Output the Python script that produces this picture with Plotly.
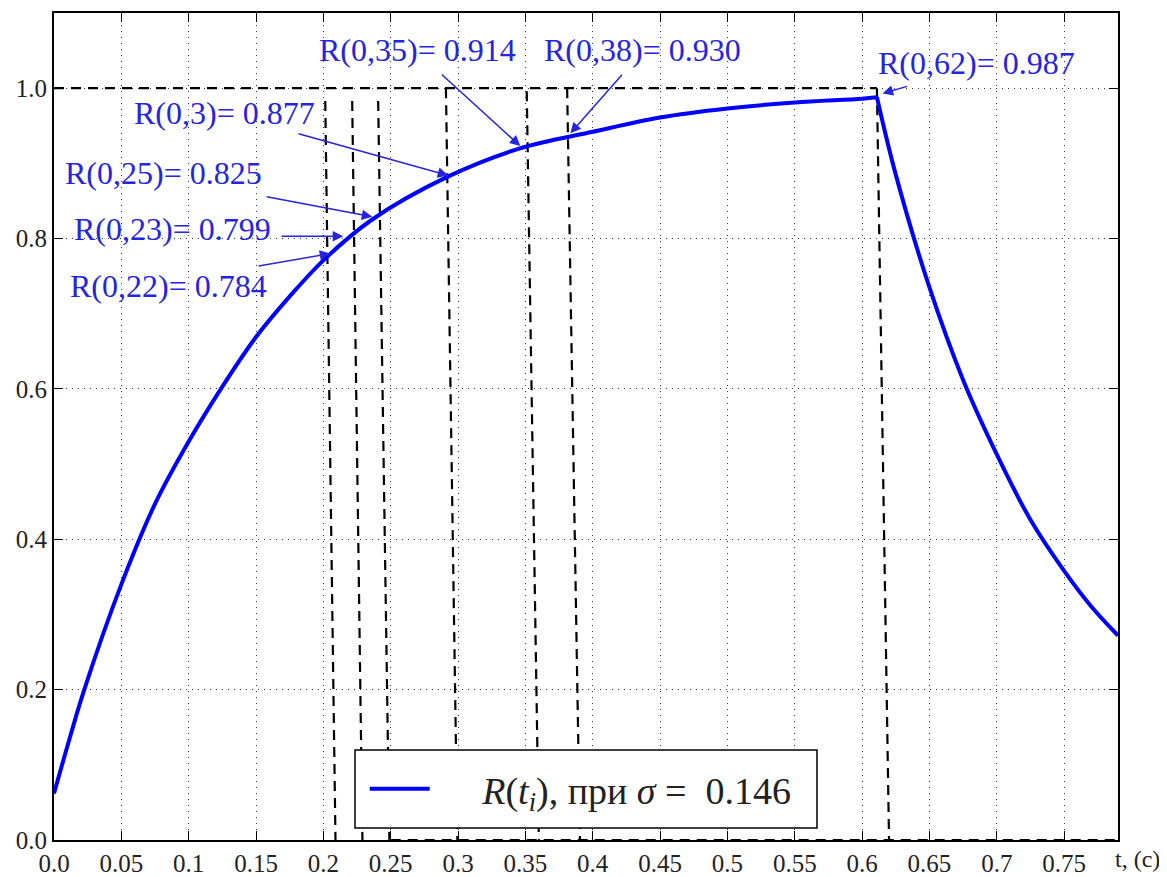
import plotly.graph_objects as go

# curve R(t): rising part and falling part
t_rise = [0.0, 0.0124, 0.0223, 0.05, 0.075, 0.1, 0.125, 0.15, 0.175, 0.2, 0.236,
          0.292, 0.346, 0.4, 0.45, 0.5, 0.55, 0.6, 0.611]
r_rise = [0.062, 0.14, 0.199, 0.34, 0.447, 0.53, 0.603, 0.669, 0.723, 0.771, 0.825,
          0.882, 0.92, 0.942, 0.961, 0.973, 0.981, 0.986, 0.988]
t_fall = [0.611, 0.625, 0.65, 0.675, 0.7, 0.725, 0.75, 0.77, 0.79]
r_fall = [0.988, 0.885, 0.735, 0.612, 0.513, 0.426, 0.358, 0.311, 0.272]

# dashed helper lines (top / bottom ends as drawn)
vl_top_t = [0.2014, 0.2214, 0.2407, 0.291, 0.351, 0.381, 0.611]
vl_top_r = [0.983, 0.983, 0.983, 1.0, 0.996, 1.0, 1.0]
vl_bot_t = [0.209, 0.229, 0.249, 0.2995, 0.360, 0.3905, 0.620]
hl_one_t = [0.0, 0.611]
hl_zero_t = [0.25, 0.79]

# annotations
ann_text = ["R(0,22)= 0.784", "R(0,23)= 0.799", "R(0,25)= 0.825", "R(0,3)= 0.877",
            "R(0,35)= 0.914", "R(0,38)= 0.930", "R(0,62)= 0.987"]
ann_text_t = [0.0104, 0.0134, 0.0067, 0.058, 0.1954, 0.3626, 0.610]
ann_text_r = [0.737, 0.813, 0.887, 0.967, 1.051, 1.051, 1.033]
ann_tail_t = [0.1508, 0.1679, 0.1568, 0.1805, 0.2868, 0.4227, 0.6345]
ann_tail_r = [0.763, 0.803, 0.856, 0.940, 1.020, 1.020, 1.003]
ann_tip_t = [0.2051, 0.2147, 0.2363, 0.2927, 0.3462, 0.3834, 0.6152]
ann_tip_r = [0.780, 0.803, 0.829, 0.884, 0.923, 0.940, 0.993]

x_ticks = [0.0, 0.05, 0.1, 0.15, 0.2, 0.25, 0.3, 0.35, 0.4, 0.45, 0.5, 0.55,
           0.6, 0.65, 0.7, 0.75]
x_tick_text = ["0.0", "0.05", "0.1", "0.15", "0.2", "0.25", "0.3", "0.35", "0.4",
               "0.45", "0.5", "0.55", "0.6", "0.65", "0.7", "0.75"]
y_ticks = [0.0, 0.2, 0.4, 0.6, 0.8, 1.0]
y_tick_text = ["0.0", "0.2", "0.4", "0.6", "0.8", "1.0"]

SERIF = "Liberation Serif, Times New Roman, serif"
DASH = "10px,7px"
BLUE_TXT = "#2525dd"
NB = "\u00a0"

fig = go.Figure()

# dashed lines
for i in range(len(vl_top_t)):
    fig.add_trace(go.Scatter(x=[vl_top_t[i], vl_bot_t[i]], y=[vl_top_r[i], 0.0],
                             mode="lines", line=dict(color="black", width=2.2, dash=DASH),
                             showlegend=False, hoverinfo="skip"))
fig.add_trace(go.Scatter(x=hl_one_t, y=[1.0, 1.0], mode="lines",
                         line=dict(color="black", width=2.2, dash=DASH),
                         showlegend=False, hoverinfo="skip"))
fig.add_trace(go.Scatter(x=hl_zero_t, y=[0.0, 0.0], mode="lines",
                         line=dict(color="black", width=2.2, dash=DASH),
                         showlegend=False, hoverinfo="skip", cliponaxis=False))

fig.add_trace(go.Scatter(x=t_rise, y=r_rise, mode="lines", line_shape="spline",
                         line=dict(color="#0000ff", width=4),
                         name=NB * 5 + "<i>R</i>(<i>t<sub>i</sub></i>), при <i>σ</i> = " + NB + "0.146"))
fig.add_trace(go.Scatter(x=t_fall, y=r_fall, mode="lines", line_shape="spline",
                         line=dict(color="#0000ff", width=4), showlegend=False))

for i in range(len(ann_text)):
    fig.add_annotation(x=ann_tip_t[i], y=ann_tip_r[i], ax=ann_tail_t[i], ay=ann_tail_r[i],
                       xref="x", yref="y", axref="x", ayref="y", text="",
                       showarrow=True, arrowhead=2, arrowsize=1.4, arrowwidth=1.5,
                       arrowcolor=BLUE_TXT)
    fig.add_annotation(x=ann_text_t[i], y=ann_text_r[i], xref="x", yref="y",
                       text=ann_text[i], showarrow=False, xanchor="left", yanchor="middle",
                       font=dict(family=SERIF, size=32, color=BLUE_TXT))

fig.add_annotation(x=1.0, y=0, xref="paper", yref="paper", text="t, (c)",
                   showarrow=False, xanchor="left", yanchor="top", xshift=-5, yshift=-4,
                   font=dict(family=SERIF, size=24, color="#222222"))

# legend frame
fig.add_shape(type="rect", xref="paper", yref="paper", x0=0.2829, x1=0.7171,
              y0=0.0145, y1=0.1088, fillcolor="white", layer="above",
              line=dict(color="black", width=1.5))

axis_common = dict(showline=True, linecolor="black", linewidth=2, mirror="ticks",
                   ticks="inside", ticklen=9, tickcolor="black", tickwidth=1,
                   showgrid=True, gridcolor="#333333", griddash="1px,5px", gridwidth=1.2,
                   zeroline=False, automargin=False,
                   tickfont=dict(family=SERIF, size=25, color="#222222"))

fig.update_xaxes(range=[0, 0.79], tickmode="array", tickvals=x_ticks,
                 ticktext=x_tick_text, **axis_common)
fig.update_yaxes(range=[0, 1.1], tickmode="array", tickvals=y_ticks,
                 ticktext=y_tick_text, **axis_common)

# page has an 8px body margin, so the figure is 8px smaller and margins shifted
fig.update_layout(
    width=1159, height=869,
    margin=dict(l=46, r=49, t=5, b=37),
    plot_bgcolor="white", paper_bgcolor="white",
    font=dict(family=SERIF),
    legend=dict(x=0.292, y=0.0617, xanchor="left", yanchor="middle",
                bgcolor="rgba(0,0,0,0)", borderwidth=0,
                font=dict(family=SERIF, size=38, color="#222222"),
                itemwidth=60),
)

fig.write_html("out.html")
